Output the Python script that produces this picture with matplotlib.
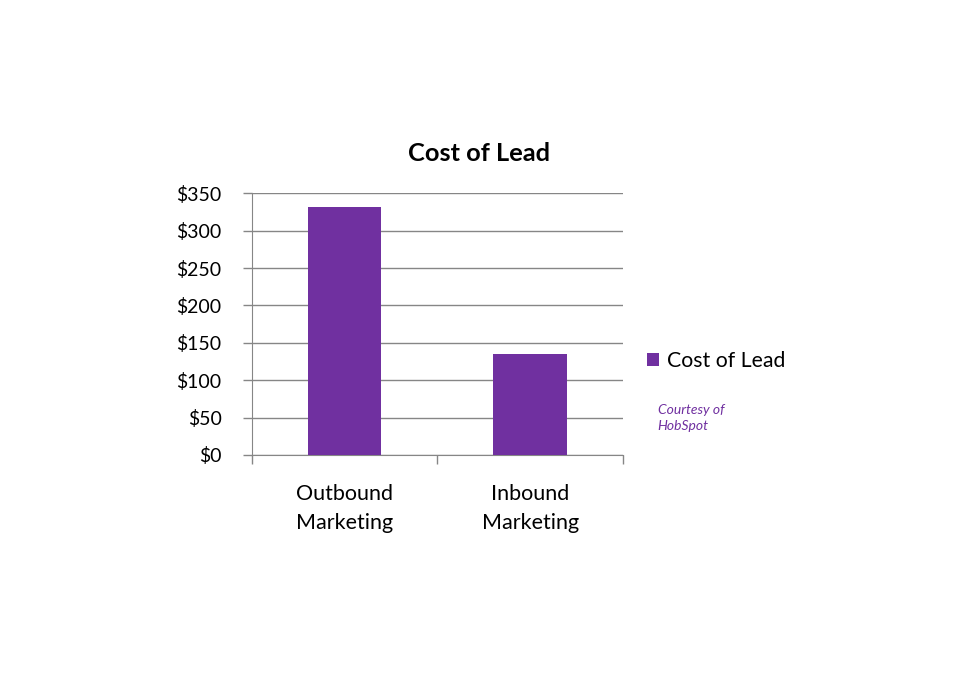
import matplotlib.pyplot as plt
import numpy as np

plt.rcParams['font.family'] = ['Lato', 'DejaVu Sans']

# data
categories = ["Outbound\nMarketing", "Inbound\nMarketing"]
cost_of_lead = [332, 135]
y_ticks = [0, 50, 100, 150, 200, 250, 300, 350]

purple = "#7030a0"
grid_gray = "#868686"

fig = plt.figure(figsize=(9.6, 6.75), dpi=100)
ax = fig.add_axes([0.262, 0.326, 0.387, 0.3876])

x = np.arange(len(categories))
ax.bar(x, cost_of_lead, width=0.395, color=purple, label="Cost of Lead", zorder=3)

ax.set_xlim(-0.5, len(categories) - 0.5)
ax.set_ylim(0, 350)
ax.set_yticks(y_ticks)
ax.set_yticklabels(["$%d" % v for v in y_ticks], fontsize=14)
ax.yaxis.grid(True, color=grid_gray, linewidth=1, zorder=0)

# category labels centred, ticks at category boundaries
ax.set_xticks(x)
ax.set_xticklabels(categories, fontsize=15.5, linespacing=1.55)
ax.tick_params(axis="x", length=0, pad=21)
ax.set_xticks([-0.5, 0.5, 1.5], minor=True)
ax.tick_params(axis="x", which="minor", length=6.5, color=grid_gray, width=1)
ax.tick_params(axis="y", length=6.5, color=grid_gray, width=1, pad=15)

for side in ["top", "right"]:
    ax.spines[side].set_visible(False)
ax.spines["left"].set_color(grid_gray)
ax.spines["bottom"].set_color(grid_gray)

fig.text(0.499, 0.773, "Cost of Lead", fontsize=18.3, fontweight="bold",
         ha="center", va="center")

ax.legend(loc="center left", bbox_to_anchor=(1.064, 0.359), frameon=False,
          fontsize=15.3, handlelength=0.55, handleheight=0.55, handletextpad=0.4,
          borderaxespad=0, borderpad=0)

fig.text(0.685, 0.381, "Courtesy of\nHobSpot", fontsize=10, style="italic",
         color=purple, ha="left", va="center", linespacing=1.45)

fig.savefig("out.png", dpi=100)
